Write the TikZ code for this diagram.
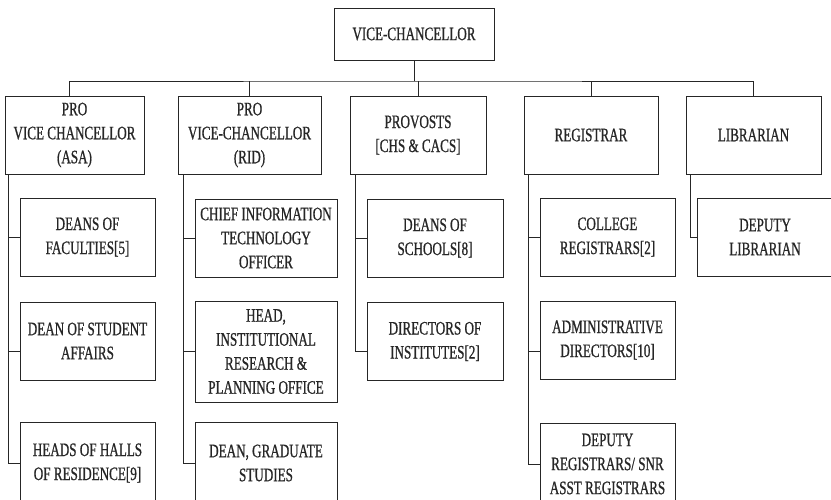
\documentclass[tikz,border=0pt]{standalone}
\usepackage{fontspec}
\setmainfont[FakeStretch=0.69,FakeBold=0.8]{Liberation Serif}
\usetikzlibrary{positioning}

\tikzset{
  post/.style={draw=black!85, line width=0.9pt, align=center, inner sep=0pt,
    font=\fontsize{19}{24}\selectfont, text=black!85, minimum height=78pt},
  link/.style={draw=black!85, line width=0.9pt},
}

\begin{document}
\begin{tikzpicture}[x=1pt,y=-1pt]
\useasboundingbox (0,0) rectangle (831,500);
\clip (0,0) rectangle (831,500);

\node[post, minimum width=160pt, minimum height=52pt] (vc) at (414,34) {VICE-CHANCELLOR};

\node[post, minimum width=139pt] (asa) at (74.5,135) {PRO\\VICE CHANCELLOR\\(ASA)};
\node[post, minimum width=143pt] (rid) at (249.5,135) {PRO\\VICE-CHANCELLOR\\(RID)};
\node[post, minimum width=136pt] (prov) at (418,135) {PROVOSTS\\{[}CHS \& CACS{]}};
\node[post, minimum width=134pt] (reg) at (591,135) {REGISTRAR};
\node[post, minimum width=135pt] (lib) at (753.5,135) {LIBRARIAN};

\node[post, minimum width=135pt] (dof) at (87.5,237) {DEANS OF\\FACULTIES[5]};
\node[post, minimum width=135pt] (dsa) at (87.5,341) {DEAN OF STUDENT\\AFFAIRS};
\node[post, minimum width=135pt, minimum height=82pt] (hoh) at (87.5,463) {HEADS OF HALLS\\OF RESIDENCE[9]};

\node[post, minimum width=142pt] (cito) at (266,238) {CHIEF INFORMATION\\TECHNOLOGY\\OFFICER};
\node[post, minimum width=142pt, minimum height=101pt] (irpo) at (266,351.5) {HEAD,\\INSTITUTIONAL\\RESEARCH \&\\PLANNING OFFICE};
\node[post, minimum width=142pt, minimum height=82pt] (grad) at (266,463) {DEAN, GRADUATE\\STUDIES};

\node[post, minimum width=136pt] (dos) at (435,238) {DEANS OF\\SCHOOLS[8]};
\node[post, minimum width=136pt] (doi) at (435,341.5) {DIRECTORS OF\\INSTITUTES[2]};

\node[post, minimum width=135pt] (cor) at (607.5,237) {COLLEGE\\REGISTRARS[2]};
\node[post, minimum width=135pt] (adm) at (607.5,340) {ADMINISTRATIVE\\DIRECTORS[10]};
\node[post, minimum width=135pt, minimum height=82pt] (dep) at (607.5,464) {DEPUTY\\REGISTRARS/ SNR\\ASST REGISTRARS};

\node[post, minimum width=136pt] (dlib) at (765,237) {DEPUTY\\LIBRARIAN};

\coordinate (bus) at (414,81);
\draw[link] (vc) -- (bus);
\draw[link] ([xshift=-5]asa.north) |- (bus) -| (lib.north);
\foreach \n in {rid,prov,reg}
  \draw[link] (\n.north) -- (\n.north |- bus);

\draw[link] ([xshift=4]asa.south west) |- (hoh.west);
\draw[link] ([xshift=4]asa.south west) |- (dof.west);
\draw[link] ([xshift=4]asa.south west) |- ([yshift=-10]dsa.west);

\draw[link] ([xshift=6]rid.south west) |- (grad.west);
\draw[link] ([xshift=6]rid.south west) |- (cito.west);
\draw[link] ([xshift=6]rid.south west) |- (irpo.west);

\draw[link] ([xshift=6]prov.south west) |- (dos.west);
\draw[link] ([xshift=6]prov.south west) |- ([yshift=-10]doi.west);

\draw[link] ([xshift=5]reg.south west) |- (dep.west);
\draw[link] ([xshift=5]reg.south west) |- (cor.west);
\draw[link] ([xshift=5]reg.south west) |- ([yshift=-11]adm.west);

\draw[link] ([xshift=5]lib.south west) |- (dlib.west);
\end{tikzpicture}
\end{document}
